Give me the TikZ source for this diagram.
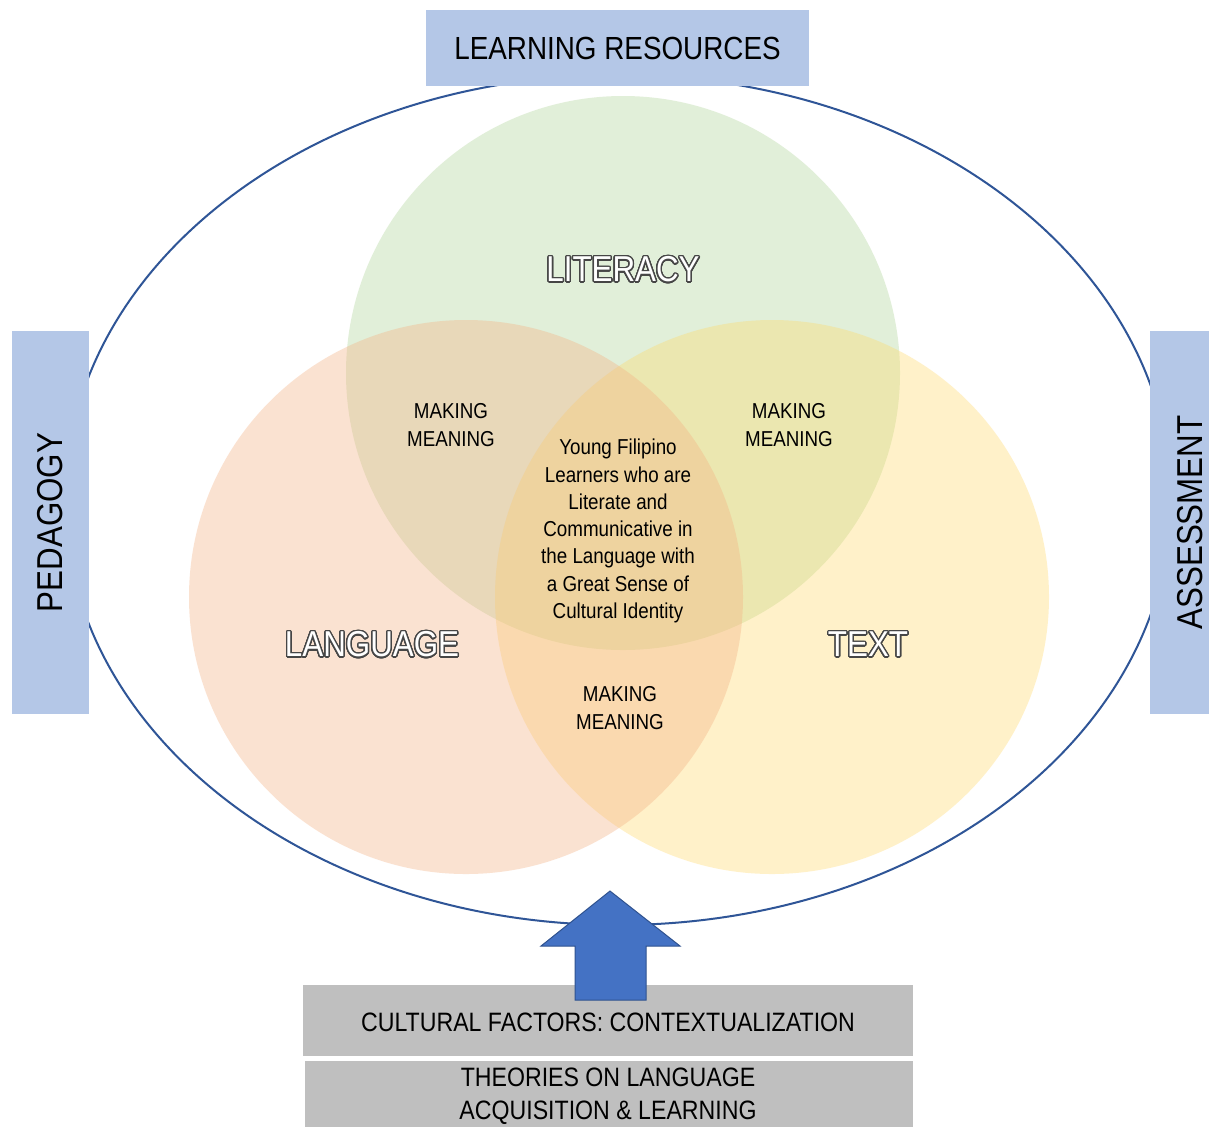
\documentclass[tikz,border=0pt]{standalone}
\usepackage{fontspec}
\setmainfont{Liberation Sans}[FakeStretch=0.87]
\usepackage{tikz}
\usepackage{contour}
\usetikzlibrary{calc}
\contourlength{0.7pt}
\contournumber{24}
\definecolor{boxblue}{RGB}{180,199,231}
\definecolor{boxgray}{RGB}{191,191,191}
\definecolor{ringblue}{RGB}{47,85,151}
\definecolor{arrowblue}{RGB}{68,114,196}
\definecolor{arrowedge}{RGB}{47,82,143}
\definecolor{litgreen}{RGB}{197,224,180}
\definecolor{langorange}{RGB}{244,177,131}
\definecolor{textyellow}{RGB}{255,217,102}
\definecolor{outlinegray}{RGB}{70,70,70}
\tikzset{
  sidebox/.style={fill=boxblue, draw=none, inner sep=0pt},
  basebox/.style={fill=boxgray, draw=none, inner sep=0pt, align=center},
  midtext/.style={align=center, font=\fontsize{10.8}{14}\selectfont},
}
\newcommand{\vennset}[4]{\fill[fill=#3, fill opacity=#4] (#1,#2) circle [radius=277];}
\newcommand{\setlabel}[4]{\node[font=\fontsize{18}{20}\selectfont] (#1) at ( #2 , #3 ) {\contour{outlinegray}{\textcolor{white}{#4}}};}
\newcommand{\makingmeaning}[3]{\node[midtext] (#1) at ( #2 , #3 ) {MAKING\\MEANING};}

\begin{document}
\begin{tikzpicture}[x=0.5pt, y=-0.5pt]
\useasboundingbox[fill=white] (0,0) rectangle (1209,1126);
% outer ring
\draw[ringblue, line width=1pt] (618,500) ellipse [x radius=553, y radius=425];
% the three sets
\vennset{623}{373}{litgreen}{0.5}
\vennset{772}{597}{textyellow}{0.35}
\vennset{466}{597}{langorange}{0.37}
% set labels
\setlabel{literacy}{623}{270}{LITERACY}
\setlabel{language}{372}{645}{LANGUAGE}
\setlabel{text}{868}{645}{TEXT}
% overlaps
\makingmeaning{mmleft}{451}{425}
\makingmeaning{mmright}{789}{425}
\makingmeaning{mmbottom}{620}{708}
\node[midtext, font=\fontsize{10.8}{13.65}\selectfont] (learners) at (618,531)
  {Young Filipino\\Learners who are\\Literate and\\Communicative in\\the Language with\\a Great Sense of\\Cultural Identity};
% boxes round the ring
\node[sidebox, minimum width=191.5pt, minimum height=38pt, font=\fontsize{16}{18}\selectfont]
  (resources) at (617.5,48) {LEARNING RESOURCES};
\node[sidebox, minimum width=38.5pt, minimum height=191.5pt] (pedagogy) at (50.5,522.5) {};
\node[rotate=90, font=\fontsize{18}{20}\selectfont] at (pedagogy) {PEDAGOGY};
\node[sidebox, minimum width=38.5pt, minimum height=191.5pt] (assessment) at (1188.5,522.5) {};
\node[rotate=90, font=\fontsize{18}{20}\selectfont] at ($(assessment)+(2,0)$) {ASSESSMENT};
% base
\node[basebox, minimum width=305pt, minimum height=35.5pt, font=\fontsize{13.3}{16.5}\selectfont]
  (cultural) at (608,1020.5) {};
\node[font=\fontsize{13.3}{16.5}\selectfont] at (608,1022) {CULTURAL FACTORS: CONTEXTUALIZATION};
\node[basebox, minimum width=304pt, minimum height=35pt] (theories) at (609,1096) {};
\node[align=center, font=\fontsize{13.3}{16.5}\selectfont] at (608,1096.5)
  {THEORIES ON LANGUAGE\\ACQUISITION \& LEARNING};
% block arrow
\filldraw[fill=arrowblue, draw=arrowedge, line width=0.5pt]
  (610,891) -- (680,946) -- (646,946) -- (646,1000) -- (575,1000) -- (575,946) -- (541,946) -- cycle;
\end{tikzpicture}
\end{document}
